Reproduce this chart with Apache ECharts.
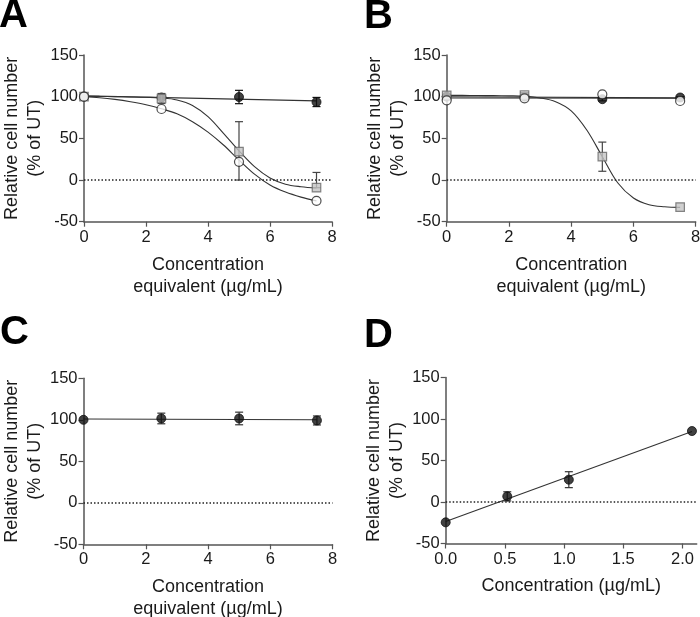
<!DOCTYPE html>
<html>
<head>
<meta charset="utf-8">
<script src="https://cdn.jsdelivr.net/npm/echarts@6/dist/echarts.min.js"></script>
<style>
html,body{margin:0;padding:0;background:#fff;}
#chart{width:700px;height:617px;}
</style>
</head>
<body>
<div id="chart"></div>
<script>
// ---------- data ----------
const panelLetters = ['A', 'B', 'C', 'D'];
const yTicks = [-50, 0, 50, 100, 150];
const doseX = [0, 2.5, 5, 7.5];                 // panels A-C
const concX = [0, 0.52, 1.04, 2.08];            // panel D
const concTicks = [0, 0.5, 1, 1.5, 2];

// Panel A
const A_filled = [100, 99, 99.6, 93.6];
const A_filled_err = [0, 2, 8, 5.5];
const A_square = [100, 97.8, 34, -9.2];
const A_square_errUp = [0, 6, 36, 18.3];
const A_square_errDown = [0, 6, 34, 0];
const A_open = [100, 85.2, 21.8, -25];

// Panel A fitted curves
const fitX = [0, 0.5, 1, 1.5, 2, 2.5, 3, 3.5, 4, 4.5, 5, 5.5, 6, 6.5, 7, 7.5];
const fitA_square = [100.5, 100.3, 100, 99.7, 99.3, 98.5, 96, 89.5, 76, 56, 35, 16, 2.5, -5, -8, -9.5];
const fitA_open = [100, 98.8, 96.8, 94, 90.4, 85.5, 79.5, 70, 57.5, 42, 24, 7, -6, -14.5, -20.5, -25];
const fitLineX = [0, 7.5];
const fitA_filled = [101, 95];

// Panel B
const B_filled = [100, 100, 97, 99];
const B_filled_err = [0, 2, 2, 1];
const B_square = [101.6, 102, 28, -32.4];
const B_square_err = [0, 3, 17.5, 0];
const B_open = [95.6, 98, 102.8, 94.8];
const fitB_square = [101.6, 101.5, 101.4, 101.2, 101, 100.5, 98.5, 94, 83, 60, 28, -3.6, -21.6, -29.6, -32, -32.8];
const fitB_filled = [100, 98.6];
const fitB_open = [98.4, 98.2];

// Panel C
const C_filled = [100, 101.6, 101.6, 99.2];
const C_filled_err = [0, 6.4, 7.6, 5.4];
const fitC_filled = [101, 100];

// Panel D
const D_filled = [-24.5, 6.8, 26.9, 85.5];
const D_filled_err = [0, 5.5, 9.6, 0];
const fitLineXD = [0, 2.08];
const fitD_filled = [-23.5, 85];

// ---------- helpers ----------
const FONT = '"Liberation Sans", Arial, Helvetica, sans-serif';
const AXIS_COLOR = '#555';
const TEXT_COLOR = '#1a1a1a';
const LINE_COLOR = '#333';

function pairs(xs, ys) { return xs.map((x, i) => [x, ys[i]]); }

function yAxisCfg(gi) {
  return {
    gridIndex: gi, type: 'value', min: -50, max: 150, interval: 50,
    name: 'Relative cell number\n(% of UT)', nameLocation: 'middle', nameGap: 33,
    nameTextStyle: { fontFamily: FONT, fontSize: 18, color: TEXT_COLOR, lineHeight: 23 },
    axisLine: { show: true, onZero: false, lineStyle: { color: AXIS_COLOR, width: 1.5 } },
    axisTick: { show: true, inside: false, length: 5, lineStyle: { color: AXIS_COLOR, width: 1.2 } },
    axisLabel: { fontFamily: FONT, fontSize: 16.5, color: TEXT_COLOR, margin: 6 },
    splitLine: { show: false }
  };
}
function xAxisCfg(gi, name) {
  return {
    gridIndex: gi, type: 'value', min: 0, max: 8, interval: 2,
    name: name, nameLocation: 'middle', nameGap: 32,
    nameTextStyle: { fontFamily: FONT, fontSize: 18, color: TEXT_COLOR, lineHeight: 22, verticalAlign: 'top' },
    axisLine: { show: true, onZero: false, lineStyle: { color: AXIS_COLOR, width: 1.5 } },
    axisTick: { show: true, inside: false, length: 5, lineStyle: { color: AXIS_COLOR, width: 1.2 } },
    axisLabel: { fontFamily: FONT, fontSize: 16.5, color: TEXT_COLOR, margin: 7 },
    splitLine: { show: false }
  };
}

function zeroLine(gi) {
  return {
    type: 'line', xAxisIndex: gi, yAxisIndex: gi, data: [], silent: true, z: 1,
    markLine: {
      silent: true, symbol: 'none', animation: false, label: { show: false },
      lineStyle: { type: [1.5, 2], color: '#222', width: 1.5 },
      data: [{ yAxis: 0 }]
    }
  };
}
function fitLine(gi, xs, ys, smooth) {
  return {
    type: 'line', xAxisIndex: gi, yAxisIndex: gi, data: pairs(xs, ys),
    showSymbol: false, symbol: 'none', smooth: smooth ? 0.35 : false, silent: true, z: 2,
    lineStyle: { color: LINE_COLOR, width: 1.1 }
  };
}
function errBars(gi, xs, ys, up, down, color, z) {
  const data = xs.map((x, i) => [x, ys[i] - down[i], ys[i] + up[i]]).filter((d, i) => up[i] > 0 || down[i] > 0);
  return {
    type: 'custom', xAxisIndex: gi, yAxisIndex: gi, silent: true, z: z,
    data: data,
    renderItem: function (params, api) {
      const x = api.value(0);
      const lo = api.coord([x, api.value(1)]);
      const hi = api.coord([x, api.value(2)]);
      const cw = 4;
      const style = { stroke: color, lineWidth: 1.2, fill: null };
      return {
        type: 'group',
        children: [
          { type: 'line', shape: { x1: lo[0], y1: lo[1], x2: hi[0], y2: hi[1] }, style: style },
          { type: 'line', shape: { x1: hi[0] - cw, y1: hi[1], x2: hi[0] + cw, y2: hi[1] }, style: style },
          { type: 'line', shape: { x1: lo[0] - cw, y1: lo[1], x2: lo[0] + cw, y2: lo[1] }, style: style }
        ]
      };
    }
  };
}
function points(gi, xs, ys, kind, z) {
  const styles = {
    filled: { symbol: 'circle', size: 9, item: { color: '#111', borderColor: '#111', borderWidth: 1 } },
    open: { symbol: 'circle', size: 9, item: { color: '#fff', borderColor: '#222', borderWidth: 1.2 } },
    square: { symbol: 'rect', size: 8.5, item: { color: '#c4c4c4', borderColor: '#666', borderWidth: 1.2 } }
  };
  const s = styles[kind];
  return {
    type: 'scatter', xAxisIndex: gi, yAxisIndex: gi, data: pairs(xs, ys), silent: true, z: z,
    symbol: s.symbol, symbolSize: s.size, itemStyle: s.item
  };
}

const xNameDose = 'Concentration\nequivalent (µg/mL)';

const dAxis = xAxisCfg(3, 'Concentration (µg/mL)');
dAxis.max = 2.12; dAxis.interval = 0.5;
dAxis.axisTick.customValues = concTicks;
dAxis.axisLabel.customValues = concTicks;
dAxis.axisLabel.formatter = v => Number(v).toFixed(1);

const LETTER_FONT = 'bold 40px ' + FONT;
const option = {
  animation: false,
  backgroundColor: '#fff',
  grid: [
    { left: 84, top: 55, width: 248, height: 166.7, outerBoundsMode: 'none' },
    { left: 446.7, top: 55, width: 249, height: 166.7, outerBoundsMode: 'none' },
    { left: 83.5, top: 378.3, width: 249, height: 166, outerBoundsMode: 'none' },
    { left: 445.7, top: 377.5, width: 251, height: 166, outerBoundsMode: 'none' }
  ],
  xAxis: [xAxisCfg(0, xNameDose), xAxisCfg(1, xNameDose), xAxisCfg(2, xNameDose), dAxis],
  yAxis: [yAxisCfg(0), yAxisCfg(1), yAxisCfg(2), yAxisCfg(3)],
  graphic: [
    { type: 'text', x: -1, y: -4, style: { text: panelLetters[0], font: LETTER_FONT, fill: '#000' } },
    { type: 'text', x: 364, y: -3, style: { text: panelLetters[1], font: LETTER_FONT, fill: '#000' } },
    { type: 'text', x: 0, y: 313, style: { text: panelLetters[2], font: LETTER_FONT, fill: '#000' } },
    { type: 'text', x: 364, y: 316, style: { text: panelLetters[3], font: LETTER_FONT, fill: '#000' } }
  ],
  series: [
    // Panel A
    zeroLine(0),
    fitLine(0, fitLineX, fitA_filled, false),
    fitLine(0, fitX, fitA_square, true),
    fitLine(0, fitX, fitA_open, true),
    errBars(0, doseX, A_filled, A_filled_err, A_filled_err, '#111', 3),
    points(0, doseX, A_filled, 'filled', 4),
    errBars(0, doseX, A_square, A_square_errUp, A_square_errDown, '#444', 5),
    points(0, doseX, A_square, 'square', 6),
    points(0, doseX, A_open, 'open', 7),
    // Panel B
    zeroLine(1),
    fitLine(1, fitLineX, fitB_filled, false),
    fitLine(1, fitLineX, fitB_open, false),
    fitLine(1, fitX, fitB_square, true),
    errBars(1, doseX, B_filled, B_filled_err, B_filled_err, '#111', 3),
    points(1, doseX, B_filled, 'filled', 4),
    errBars(1, doseX, B_square, B_square_err, B_square_err, '#444', 5),
    points(1, doseX, B_square, 'square', 6),
    points(1, doseX, B_open, 'open', 7),
    // Panel C
    zeroLine(2),
    fitLine(2, fitLineX, fitC_filled, false),
    errBars(2, doseX, C_filled, C_filled_err, C_filled_err, '#333', 3),
    points(2, doseX, C_filled, 'filled', 4),
    // Panel D
    zeroLine(3),
    fitLine(3, fitLineXD, fitD_filled, false),
    errBars(3, concX, D_filled, D_filled_err, D_filled_err, '#333', 3),
    points(3, concX, D_filled, 'filled', 4)
  ]
};

const chart = echarts.init(document.getElementById('chart'), null, { renderer: 'canvas' });
chart.setOption(option);
</script>
</body>
</html>
